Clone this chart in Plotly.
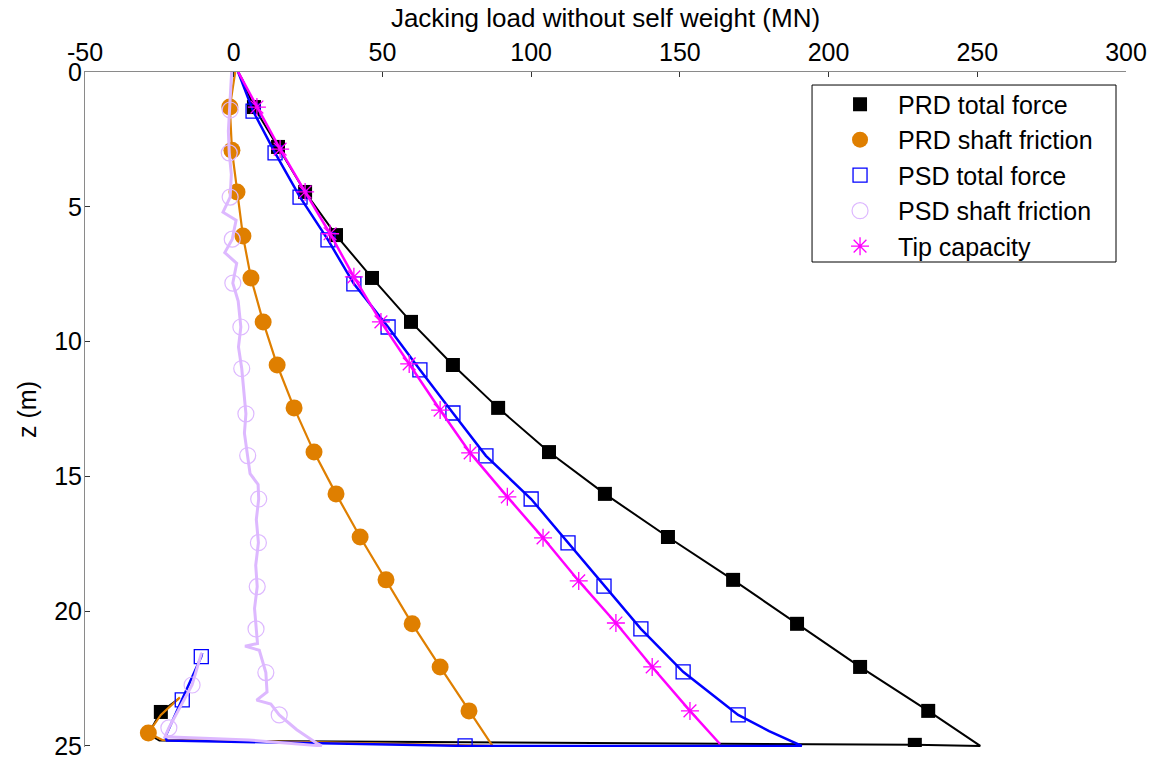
import plotly.graph_objects as go

# ---- depth z (m) and jacking load (MN) along each curve ----
# PRD total force
prd_total_z = [0.0, 0.3, 1.30, 2.78, 4.45, 6.05, 7.64, 9.27, 10.87, 12.46, 14.10, 15.65,
               17.25, 18.84, 20.47, 22.07, 23.70, 25.0, 24.96, 24.80, 24.55, 23.74, 23.25]
prd_total_x = [1.5, 3.0, 6.8, 14.9, 24.0, 34.4, 46.5, 59.6, 73.7, 88.9, 106.0, 124.8,
               146.0, 167.9, 189.4, 210.6, 233.5, 251.0, 229.0, -25.0, -28.7, -24.5, -18.5]
prd_total_marks = [2, 3, 4, 5, 6, 7, 8, 9, 10, 11, 12, 13, 14, 15, 16, 18, 21]

# PRD shaft friction
prd_shaft_z = [0.0, 1.30, 2.90, 4.45, 6.08, 7.64, 9.27, 10.87, 12.46, 14.10, 15.65, 17.25,
               18.84, 20.47, 22.07, 23.70, 25.0, 24.87, 24.78, 24.52, 23.85, 23.20]
prd_shaft_x = [0.5, -1.3, -0.6, 1.1, 3.1, 5.8, 9.9, 14.6, 20.3, 27.0, 34.4, 42.5,
               51.2, 60.0, 69.4, 79.1, 87.0, 30.0, -24.0, -28.7, -24.5, -18.1]
prd_shaft_marks = [1, 2, 3, 4, 5, 6, 7, 8, 9, 10, 11, 12, 13, 14, 15, 19]

# PSD total force
psd_total_z = [0.0, 0.3, 1.45, 3.00, 4.64, 6.23, 7.86, 9.46, 11.05, 12.65, 14.24, 15.84,
               17.47, 19.07, 20.66, 22.25, 23.85, 24.45, 25.0, 25.0, 24.80, 24.66, 23.29,
               21.69, 21.55]
psd_total_x = [1.5, 2.5, 6.5, 13.9, 22.3, 31.7, 40.4, 51.9, 62.6, 73.7, 84.8, 100.0,
               112.4, 124.5, 136.9, 151.1, 169.6, 180.0, 191.0, 77.8, -22.5, -23.0, -17.3,
               -10.9, -10.6]
psd_total_marks = [2, 3, 4, 5, 6, 7, 8, 9, 10, 11, 12, 13, 14, 15, 16, 19, 22, 23]

# PSD shaft friction
psd_shaft_z = [0.0, 0.6, 1.41, 2.2, 3.00, 3.8, 4.64, 5.2, 5.5, 6.20, 6.7, 7.1, 7.83, 8.5,
               9.46, 10.2, 11.00, 11.8, 12.68, 13.4, 14.23, 14.9, 15.3, 15.84, 16.6, 17.46,
               18.3, 19.09, 19.9, 20.66, 21.2, 21.3, 21.45, 22.28, 23.0, 23.3, 23.45, 23.85,
               24.4, 24.9, 25.0, 24.78, 24.66, 24.33, 22.74, 21.55]
psd_shaft_x = [-0.7, -1.0, -1.2, -1.8, -1.5, -0.8, -1.2, -3.6, 0.8, -0.5, -3.0, 1.0, -0.3,
               1.5, 2.4, 1.6, 2.7, 3.4, 4.1, 3.6, 4.7, 5.5, 8.2, 8.4, 7.6, 8.3,
               7.4, 7.9, 7.0, 7.5, 8.0, 3.8, 8.6, 10.8, 11.2, 7.7, 12.5, 15.3,
               21.2, 27.9, 29.6, 5.0, -23.1, -21.8, -14.0, -10.8]
psd_shaft_marks = [2, 4, 6, 9, 12, 14, 16, 18, 20, 23, 25, 27, 29, 33, 37, 43, 44]

# Tip capacity
tip_z = [0.0, 0.3, 1.30, 2.86, 4.45, 6.00, 7.60, 9.27, 10.83, 12.54, 14.13, 15.76, 17.28,
         18.88, 20.44, 22.07, 23.70, 24.93]
tip_x = [1.5, 3.0, 7.8, 15.6, 24.0, 32.4, 40.4, 49.5, 59.0, 69.4, 79.5, 92.0, 104.0,
         116.0, 128.5, 140.7, 153.4, 163.5]
tip_marks = [2, 3, 4, 5, 6, 7, 8, 9, 10, 11, 12, 13, 14, 15, 16]

x_ticks = [-50, 0, 50, 100, 150, 200, 250, 300]
z_ticks = [0, 5, 10, 15, 20, 25]

FONT = "Liberation Sans, Arial, Helvetica, sans-serif"

series = [
    ("PRD total force", prd_total_x, prd_total_z, prd_total_marks, "#000000", 2.0,
     dict(symbol="square", size=14, color="#000000", line=dict(width=0))),
    ("PRD shaft friction", prd_shaft_x, prd_shaft_z, prd_shaft_marks, "#DF7F00", 2.2,
     dict(symbol="circle", size=17, color="#DF7F00", line=dict(width=0))),
    ("PSD total force", psd_total_x, psd_total_z, psd_total_marks, "#0000FF", 2.5,
     dict(symbol="square-open", size=14, color="#0000FF", line=dict(width=1.3, color="#0000FF"))),
    ("PSD shaft friction", psd_shaft_x, psd_shaft_z, psd_shaft_marks, "#DDB8FF", 3.0,
     dict(symbol="circle-open", size=16, color="#DDB8FF", line=dict(width=1.2, color="#DDB8FF"))),
    ("Tip capacity", tip_x, tip_z, tip_marks, "#FF00FF", 2.5,
     dict(symbol="asterisk-open", size=15, color="#FF00FF", line=dict(width=1.3, color="#FF00FF"))),
]

fig = go.Figure()
for name, xs, zs, marks, color, width, marker in series:
    fig.add_trace(go.Scatter(x=xs, y=zs, mode="lines", showlegend=False,
                             line=dict(color=color, width=width), hoverinfo="skip"))
    fig.add_trace(go.Scatter(x=[xs[i] for i in marks], y=[zs[i] for i in marks],
                             mode="markers", name=name, marker=marker))

# opaque framed box behind the legend entries
fig.add_shape(type="rect", xref="paper", yref="paper",
              x0=0.6984, x1=0.9904, y0=0.7185, y1=0.9807,
              line=dict(color="#000000", width=1), fillcolor="white", layer="above")

fig.update_layout(
    width=1152, height=758,
    margin=dict(l=85, r=26, t=72, b=11, autoexpand=False),
    paper_bgcolor="white", plot_bgcolor="white",
    font=dict(family=FONT, size=25, color="#000000"),
    showlegend=True,
    legend=dict(x=0.6984, y=0.986, xanchor="left", yanchor="top",
                bgcolor="rgba(0,0,0,0)", borderwidth=0,
                font=dict(family=FONT, size=25), itemwidth=66, indentation=10),
    xaxis=dict(side="top", range=[-50, 300], tickvals=x_ticks,
               ticktext=[str(v) for v in x_ticks],
               showgrid=False, zeroline=False, showline=True, linecolor="#8a8a8a",
               linewidth=1, ticks="inside", ticklen=5, tickcolor="#333333",
               tickfont=dict(size=25), automargin=False,
               title=dict(text="Jacking load without self weight (MN)",
                          font=dict(size=26), standoff=2)),
    yaxis=dict(range=[25.04, 0], tickvals=z_ticks, ticktext=[str(v) for v in z_ticks],
               showgrid=False, zeroline=False, showline=True, linecolor="#8a8a8a",
               linewidth=1, ticks="inside", ticklen=5, tickcolor="#333333",
               tickfont=dict(size=25), automargin=False, ticklabelstandoff=-3,
               ticklabeloverflow="allow",
               title=dict(text="z (m)", font=dict(size=25), standoff=10)),
)

fig.write_html("out.html")
